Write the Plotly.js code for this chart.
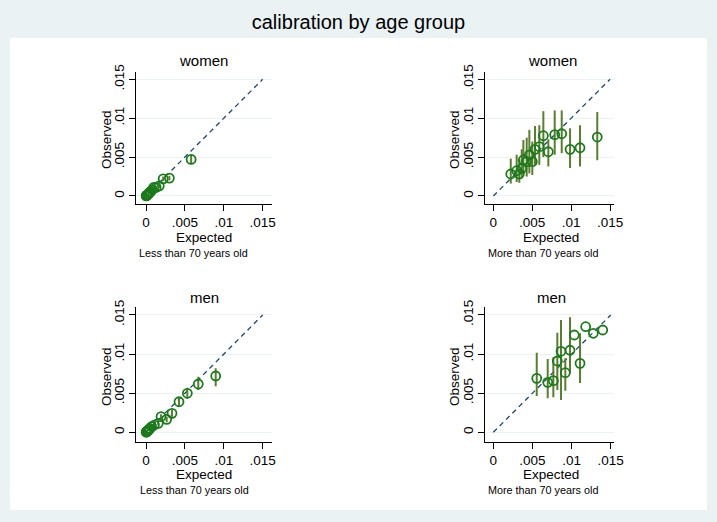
<!DOCTYPE html>
<html>
<head>
<meta charset="utf-8">
<script src="https://cdn.plot.ly/plotly-3.0.1.min.js"></script>
<style>html,body{margin:0;padding:0;background:#eaf2f3;}#chart{width:717px;height:522px;}</style>
</head>
<body>
<div id="chart"></div>
<script>
// ---- data ----
var tickVals = [0, 0.005, 0.01, 0.015];
var tickText = ['0', '.005', '.01', '.015'];
var diagX = [0, 0.015];
var diagY = [0, 0.015];

// women, less than 70
var wyExp = [0.00002,0.00005,0.0001,0.00015,0.0002,0.0003,0.0004,0.0005,0.0006,0.0008,0.001,0.0013,0.0017,0.0022,0.003,0.0058];
var wyObs = [0.00002,0.00004,0.00008,0.00012,0.00018,0.00025,0.00035,0.0005,0.00056,0.0008,0.0011,0.0011,0.0013,0.0022,0.0023,0.0047];
var wyHi  = [0.00004,0.00007,0.00012,0.00017,0.00024,0.00032,0.00043,0.0006,0.00066,0.00095,0.0013,0.0013,0.00155,0.0025,0.0026,0.0053];
var wyLo  = [0.00001,0.00002,0.00004,0.00007,0.00012,0.00018,0.00027,0.0004,0.00046,0.00065,0.0009,0.0009,0.00105,0.0019,0.002,0.0041];

// women, more than 70
var woExp = [0.00224,0.0030,0.00334,0.00365,0.00386,0.00429,0.00463,0.00501,0.00536,0.00591,0.00643,0.00707,0.00789,0.00879,0.00986,0.01114,0.01336];
var woObs = [0.00283,0.00325,0.00283,0.00355,0.00463,0.00441,0.00527,0.00441,0.0060,0.00634,0.00775,0.00569,0.00788,0.0080,0.0060,0.0062,0.00758];
var woHi  = [0.0048,0.0053,0.0047,0.0060,0.0072,0.0075,0.0085,0.0070,0.0090,0.0091,0.0109,0.0073,0.0110,0.0110,0.0087,0.0091,0.0108];
var woLo  = [0.0016,0.0018,0.0017,0.0023,0.0029,0.0025,0.0029,0.0027,0.0040,0.0040,0.0050,0.0038,0.0053,0.0055,0.0036,0.0038,0.0046];

// men, less than 70
var myExp = [0.00002,0.00005,0.0001,0.00015,0.0002,0.0003,0.0004,0.0005,0.00073,0.00107,0.00158,0.00193,0.00266,0.00334,0.00424,0.00531,0.00672,0.00896];
var myObs = [0.00002,0.00004,0.00009,0.00013,0.0002,0.00028,0.00038,0.0005,0.00072,0.00093,0.00115,0.002,0.00166,0.00243,0.00391,0.00499,0.00618,0.0072];
var myHi  = [0.00004,0.00007,0.00013,0.00018,0.00026,0.00035,0.00046,0.0006,0.00085,0.0011,0.0014,0.0023,0.002,0.0029,0.0045,0.0057,0.0071,0.0082];
var myLo  = [0.00001,0.00002,0.00005,0.00008,0.00014,0.00021,0.0003,0.0004,0.0006,0.00078,0.0009,0.0017,0.0013,0.002,0.0034,0.0043,0.0054,0.0059];

// men, more than 70
var moExp = [0.00555,0.00695,0.00767,0.00818,0.00865,0.0092,0.0098,0.01035,0.01108,0.0118,0.01278,0.01398];
var moObs = [0.0069,0.00639,0.0066,0.00912,0.01036,0.00762,0.01049,0.01244,0.00882,0.0135,0.01266,0.01308];
var moHi  = [0.01018,0.00937,0.0096,0.01274,0.01436,0.00946,0.0147,0.01244,0.01266,0.0135,0.01266,0.01308];
var moLo  = [0.00464,0.00435,0.00448,0.00541,0.00413,0.00532,0.00754,0.01244,0.0063,0.0135,0.01266,0.01308];

// ---- styling ----
var ptColor = '#1b7a1b';
var barColor = '#5a7d2f';
var lineColor = '#1a476f';
var W = 717, H = 522;
function px(x){ return x / W; }
function py(y){ return 1 - y / H; }

function diff(a, b){ return a.map(function(v, i){ return v - b[i]; }); }

function panel(xs, ys, hi, lo, xa, ya){
  return [
    {x: diagX, y: diagY, xaxis: xa, yaxis: ya, mode: 'lines', type: 'scatter',
     line: {color: lineColor, width: 1.3, dash: '5px,4px'}, hoverinfo: 'skip', showlegend: false},
    {x: xs, y: ys, xaxis: xa, yaxis: ya, mode: 'markers', type: 'scatter', showlegend: false,
     marker: {symbol: 'circle-open', size: 9, color: ptColor, line: {width: 1.8, color: ptColor}},
     error_y: {type: 'data', symmetric: false, array: diff(hi, ys), arrayminus: diff(ys, lo),
               color: barColor, thickness: 2, width: 0}}
  ];
}

var data = [].concat(
  panel(wyExp, wyObs, wyHi, wyLo, 'x', 'y'),
  panel(woExp, woObs, woHi, woLo, 'x2', 'y2'),
  panel(myExp, myObs, myHi, myLo, 'x3', 'y3'),
  panel(moExp, moObs, moHi, moLo, 'x4', 'y4')
);

var fontFam = 'Liberation Sans, Arial, sans-serif';

function xax(domain, range, anchor){
  return {domain: domain, range: range, anchor: anchor, tickvals: tickVals, ticktext: tickText,
    showgrid: false, zeroline: false, showline: true, linecolor: '#000', linewidth: 1,
    ticks: 'outside', ticklen: 6, tickcolor: '#000', tickfont: {size: 13.5, color: '#000', family: fontFam}};
}
function yax(domain, range, anchor){
  return {domain: domain, range: range, anchor: anchor, tickvals: tickVals, ticktext: tickText,
    showgrid: true, gridcolor: '#eaf2f3', gridwidth: 1, zeroline: false, showline: true,
    linecolor: '#000', linewidth: 1, ticks: 'outside', ticklen: 6, tickcolor: '#000', tickangle: -90,
    tickfont: {size: 13.5, color: '#000', family: fontFam}};
}

var dxL = [px(136), px(272)], dxR = [px(485), px(614)];
var dyT = [py(204), py(72)], dyB = [py(441.7), py(306.7)];

var annotations = [];
function ann(text, x, y, size, angle){
  annotations.push({text: text, x: px(x), y: py(y), xref: 'paper', yref: 'paper', showarrow: false,
    xanchor: 'center', yanchor: 'middle', textangle: angle || 0, font: {size: size, color: '#000', family: fontFam}});
}
ann('women', 203, 61, 15); ann('women', 552, 61, 15);
ann('men', 204, 297, 15); ann('men', 551, 297, 15);
ann('Expected', 204, 237, 13.5); ann('Expected', 551, 237, 13.5);
ann('Expected', 204, 474.5, 13.5); ann('Expected', 551, 474.5, 13.5);
ann('Observed', 106, 140, 13.5, -90); ann('Observed', 454, 140, 13.5, -90);
ann('Observed', 106, 377, 13.5, -90); ann('Observed', 454, 377, 13.5, -90);
ann('Less than 70 years old', 193.5, 252.5, 10.8); ann('More than 70 years old', 542.5, 252.5, 10.8);
ann('Less than 70 years old', 194.5, 489.5, 10.8); ann('More than 70 years old', 542.5, 489.5, 10.8);

var layout = {
  width: W, height: H, margin: {l: 0, r: 0, t: 0, b: 0},
  paper_bgcolor: '#eaf2f3', plot_bgcolor: 'rgba(0,0,0,0)',
  title: {text: 'calibration by age group', x: 0.5, xanchor: 'center', y: py(22), yanchor: 'middle',
          font: {size: 20, color: '#000', family: fontFam}},
  showlegend: false,
  xaxis: xax(dxL, [-0.00129, 0.0162], 'y'),
  yaxis: yax(dyT, [-0.00103, 0.01594], 'x'),
  xaxis2: xax(dxR, [-0.00107, 0.01551], 'y2'),
  yaxis2: yax(dyT, [-0.00103, 0.01594], 'x2'),
  xaxis3: xax(dxL, [-0.00129, 0.0162], 'y3'),
  yaxis3: yax(dyB, [-0.0012, 0.01606], 'x3'),
  xaxis4: xax(dxR, [-0.00106, 0.01542], 'y4'),
  yaxis4: yax(dyB, [-0.0012, 0.01606], 'x4'),
  shapes: [{type: 'rect', xref: 'paper', yref: 'paper', x0: px(10), x1: px(707), y0: py(510), y1: py(38),
            fillcolor: '#ffffff', line: {width: 0}, layer: 'below'}],
  annotations: annotations
};

Plotly.newPlot('chart', data, layout, {displayModeBar: false, staticPlot: true});
</script>
</body>
</html>
